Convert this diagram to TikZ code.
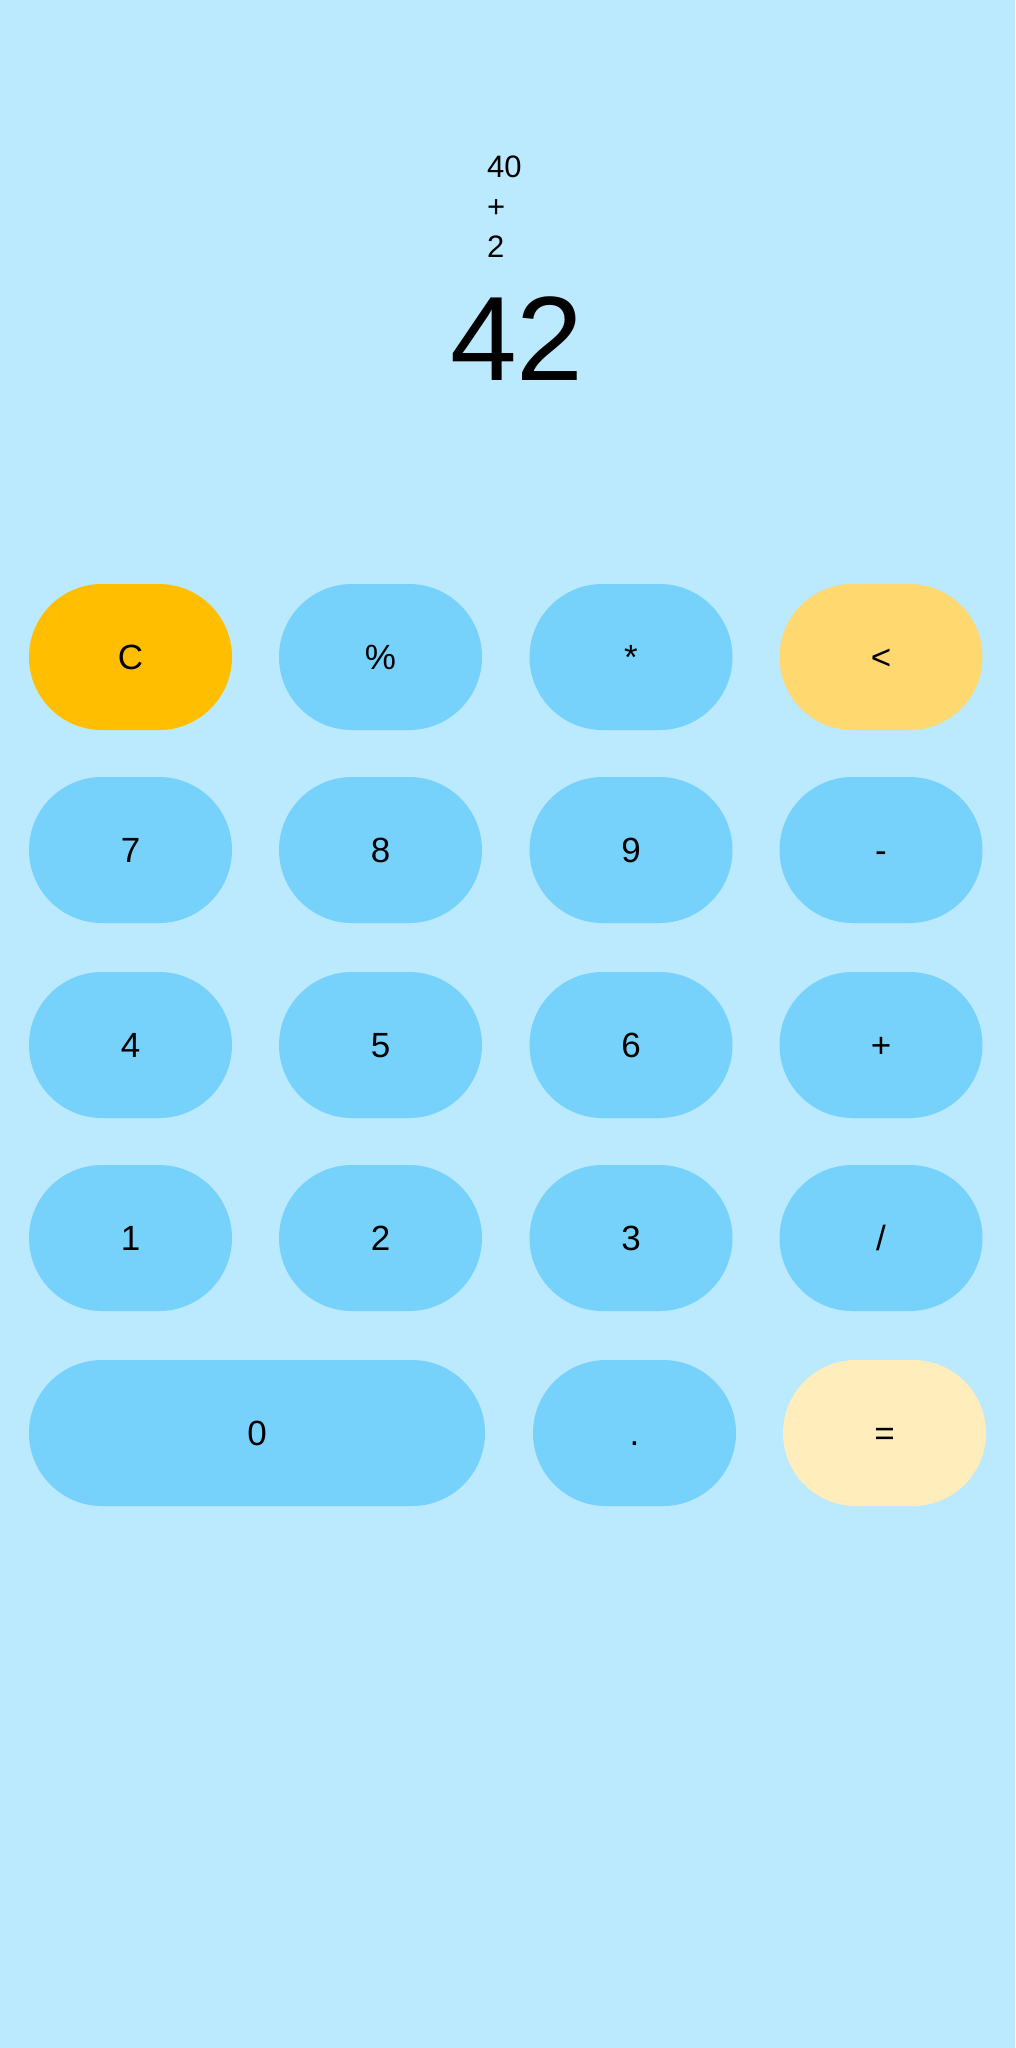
\documentclass[tikz,border=0pt]{standalone}
\usepackage{fontspec}
\setmainfont{Liberation Sans}
\usetikzlibrary{shapes.misc}
\definecolor{screenbg}{HTML}{BBE9FD}
\definecolor{keyblue}{HTML}{76D1FB}
\definecolor{keyclear}{HTML}{FFBF00}
\definecolor{keyback}{HTML}{FFD96F}
\definecolor{keyequal}{HTML}{FFEDBB}
\tikzset{
  key/.style={rounded rectangle, minimum width=203pt, minimum height=146pt,
    inner sep=0pt, text height=25pt, text depth=0pt, fill=keyblue, font=\fontsize{35}{40}\selectfont},
  history/.style={anchor=base west, inner sep=0pt, font=\fontsize{31}{36}\selectfont},
}
\begin{document}
\begin{tikzpicture}[x=1pt,y=-1pt]
	\fill[screenbg] (0,0) rectangle (1015,2048);
	
	% display
	\node[history] (opa) at (487,177) {40};
	\node[history] (opsign) at (487,217) {+};
	\node[history] (opb) at (487,257) {2};
	\node[anchor=base, inner sep=0pt, font=\fontsize{120}{130}\selectfont] (result) at (517,380) {42};
	
	% keys
	\foreach \lbl/\nm/\col/\cx/\cy in {C/clear/keyclear/130.5/657, \%/percent/keyblue/380.5/657,
		*/times/keyblue/631/657, </back/keyback/881/657,
		7/seven/keyblue/130.5/850, 8/eight/keyblue/380.5/850, 9/nine/keyblue/631/850, -/minus/keyblue/881/850,
		4/four/keyblue/130.5/1045, 5/five/keyblue/380.5/1045, 6/six/keyblue/631/1045, +/plus/keyblue/881/1045,
		1/one/keyblue/130.5/1238, 2/two/keyblue/380.5/1238, 3/three/keyblue/631/1238, \slash/divide/keyblue/881/1238,
		./dot/keyblue/634.5/1433, =/equals/keyequal/884.5/1433}
		\node[key, fill=\col] (\nm) at (\cx,\cy) {\lbl};
	\node[key, minimum width=456pt] (zero) at (257,1433) {0};
\end{tikzpicture}
\end{document}
